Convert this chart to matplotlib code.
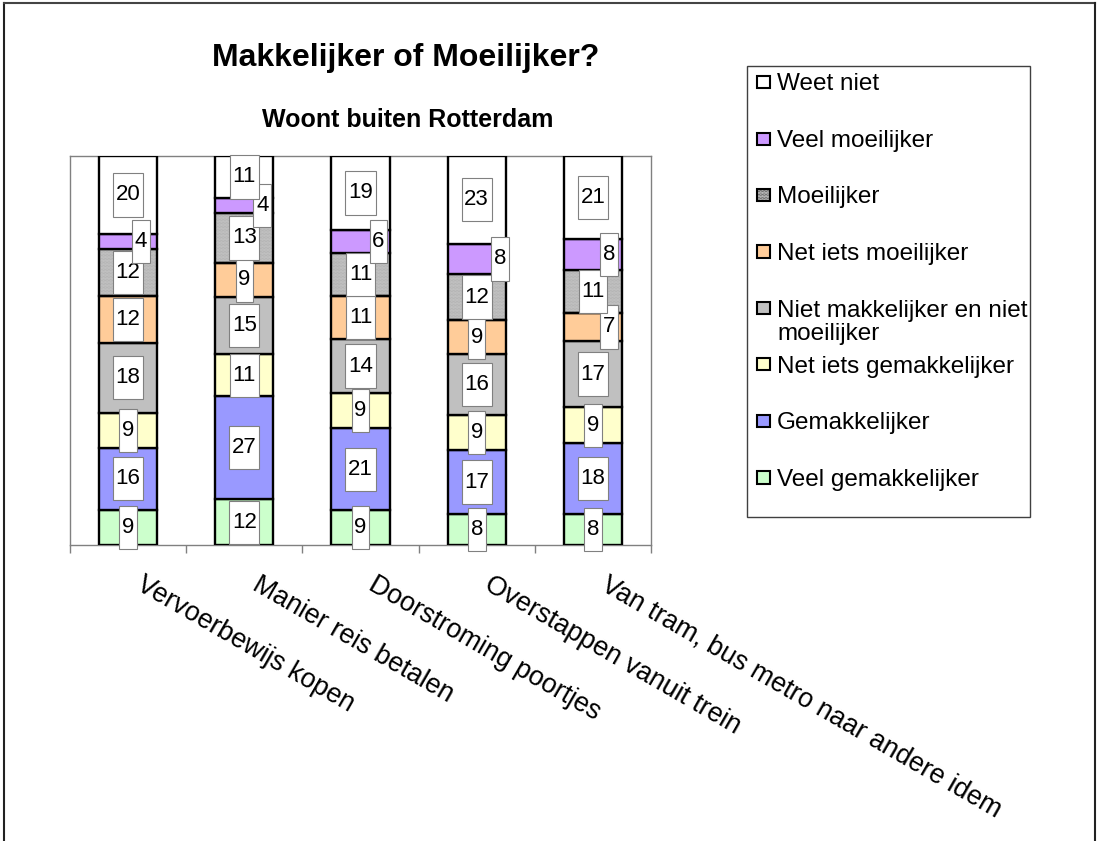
import numpy as np
import matplotlib
matplotlib.use("Agg")
import matplotlib.pyplot as plt
import matplotlib.patches as patches
from matplotlib.path import Path
from matplotlib.lines import Line2D

plt.rcParams['font.family'] = ['Liberation Sans', 'DejaVu Sans']
plt.rcParams['hatch.linewidth'] = 0.3

# data, series listed bottom -> top
categories = ['Vervoerbewijs kopen', 'Manier reis betalen', 'Doorstroming poortjes',
              'Overstappen vanuit trein', 'Van tram, bus metro naar andere idem']
series_names = ['Veel gemakkelijker', 'Gemakkelijker', 'Net iets gemakkelijker',
                'Niet makkelijker en niet\nmoeilijker', 'Net iets moeilijker',
                'Moeilijker', 'Veel moeilijker', 'Weet niet']
veel_gemakkelijker = [9, 12, 9, 8, 8]
gemakkelijker = [16, 27, 21, 17, 18]
net_iets_gemakkelijker = [9, 11, 9, 9, 9]
niet_makkelijker_niet_moeilijker = [18, 15, 14, 16, 17]
net_iets_moeilijker = [12, 9, 11, 9, 7]
moeilijker = [12, 13, 11, 12, 11]
veel_moeilijker = [4, 4, 6, 8, 8]
weet_niet = [20, 11, 19, 23, 21]

values = [veel_gemakkelijker, gemakkelijker, net_iets_gemakkelijker,
          niet_makkelijker_niet_moeilijker, net_iets_moeilijker,
          moeilijker, veel_moeilijker, weet_niet]
colors = ['#CCFFCC', '#9999FF', '#FFFFCC', '#C0C0C0', '#FFCC99', '#C2C2C2', '#CC99FF', '#FFFFFF']
hatched = 'Moeilijker'
hatch_pattern = '............'

# labels that Excel pushed sideways (category, series index) -> x shift
label_nudge = {(0, 6): 0.11, (1, 6): 0.155, (2, 6): 0.155, (3, 6): 0.2, (4, 6): 0.14, (4, 4): 0.14}

W, H = 1098, 841


def fx(px):
    return px / W


def fy(py):
    return 1 - py / H


def label_box(x0, y0, width, height, mutation_size):
    # narrow sides, tall top/bottom like the Excel label boxes
    dx = 0.12 * mutation_size
    dy = 0.5 * mutation_size
    verts = [(x0 - dx, y0 - dy), (x0 + width + dx, y0 - dy),
             (x0 + width + dx, y0 + height + dy), (x0 - dx, y0 + height + dy),
             (x0 - dx, y0 - dy)]
    return Path(verts, closed=True)


fig = plt.figure(figsize=(W / 100, H / 100), dpi=100)
ax = fig.add_axes([fx(70), fy(545), fx(651) - fx(70), fy(156) - fy(545)])

x = np.arange(len(categories))
totals = np.sum(np.array(values), axis=0)
bottom = np.zeros(len(categories))
for s, (name, vals, col) in enumerate(zip(series_names, values, colors)):
    pct = np.array(vals) / totals * 100
    if name == hatched:
        ax.bar(x, pct, 0.5, bottom=bottom, color=col, edgecolor='#a4a4a4',
               hatch=hatch_pattern, linewidth=0, zorder=2)
        ax.bar(x, pct, 0.5, bottom=bottom, fill=False, edgecolor='black',
               linewidth=1.7, zorder=3)
    else:
        ax.bar(x, pct, 0.5, bottom=bottom, color=col, edgecolor='black',
               linewidth=1.7, zorder=3)
    for i, v in enumerate(vals):
        ax.text(x[i] + label_nudge.get((i, s), 0), bottom[i] + pct[i] / 2, str(v),
                ha='center', va='center', fontsize=16, zorder=5,
                bbox=dict(boxstyle=label_box, facecolor='white', edgecolor='#808080',
                          linewidth=0.8))
    bottom += pct

ax.set_xlim(-0.5, len(categories) - 0.5)
ax.set_ylim(0, 100)
ax.set_yticks([])
ax.set_xticks(np.arange(-0.5, len(categories), 1))
ax.set_xticklabels([])
ax.tick_params(axis='x', direction='out', length=6, width=1, color='#808080')
for sp in ax.spines.values():
    sp.set_color('#808080')
    sp.set_linewidth(1)

for i, cat in enumerate(categories):
    ax.annotate(cat, xy=(i, 0), xycoords=('data', 'axes fraction'),
                xytext=(12, -19), textcoords='offset points',
                rotation=-30, rotation_mode='anchor', ha='left', va='top',
                fontsize=19.3)

fig.text(fx(406), fy(58), 'Makkelijker of Moeilijker?', ha='center', va='center',
         fontsize=23, weight='bold')
fig.text(fx(408), fy(120), 'Woont buiten Rotterdam', ha='center', va='center',
         fontsize=18, weight='bold')

# legend, drawn by hand so the two-line entry keeps the even spacing
fig.add_artist(patches.Rectangle((fx(747), fy(517)), fx(1030) - fx(747), fy(66) - fy(517),
                                 transform=fig.transFigure, fill=False,
                                 edgecolor='#404040', linewidth=1))
for k, s in enumerate(range(len(series_names) - 1, -1, -1)):
    yc = 82 + 56.5 * k
    fig.add_artist(patches.Rectangle((fx(757), fy(yc + 6)), fx(770) - fx(757), fy(yc - 6) - fy(yc + 6),
                                     transform=fig.transFigure, facecolor=colors[s],
                                     edgecolor='black', linewidth=1.5,
                                     hatch=hatch_pattern if series_names[s] == hatched else None))
    for j, line in enumerate(series_names[s].split('\n')):
        fig.text(fx(777), fy(yc + 8.5 + 23 * j), line, ha='left', va='baseline',
                 fontsize=17.5)

# chart frame
fig.add_artist(Line2D([fx(4), fx(4)], [fy(3), 0], transform=fig.transFigure, color='#222222', lw=1.5))
fig.add_artist(Line2D([fx(4), fx(1095)], [fy(3), fy(3)], transform=fig.transFigure, color='#444444', lw=1.5))
fig.add_artist(Line2D([fx(1095), fx(1095)], [fy(3), 0], transform=fig.transFigure, color='#222222', lw=1.5))

fig.savefig('out.png', dpi=100)
